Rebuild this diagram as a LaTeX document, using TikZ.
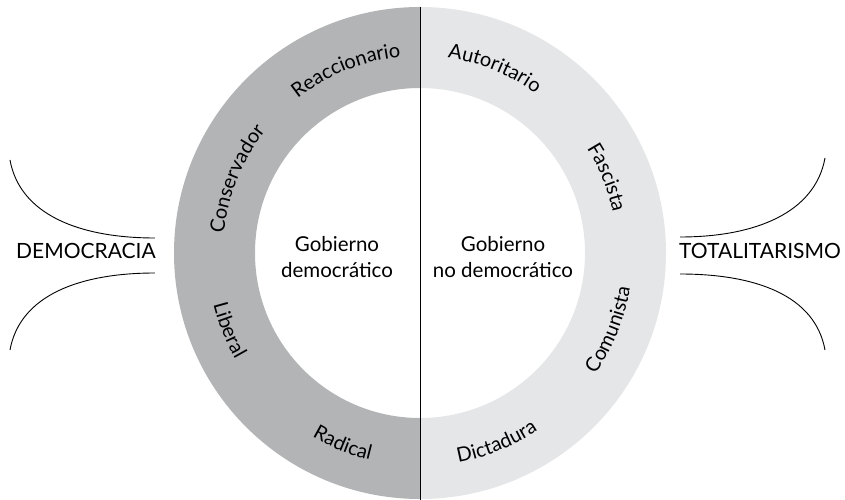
\documentclass[tikz,border=0pt]{standalone}
\usepackage{fontspec}
\setmainfont{Lato}
\usetikzlibrary{decorations.text}
\definecolor{oscuro}{RGB}{179,180,182}
\definecolor{claro}{RGB}{229,230,231}
\newcommand{\anillofont}{\fontsize{20}{24}\selectfont}
\tikzstyle{centro}=[align=center,font=\fontsize{20.5}{26}\selectfont,inner sep=0pt]
\tikzstyle{extremo}=[anchor=base,font=\fontsize{21}{25}\selectfont,inner sep=0pt]
\tikzstyle{llave} = [draw,line width=0.9pt,-]
\tikzset{
  arriba/.style={decorate,decoration={text along path,text align=center,text={|\anillofont|#1}}},
  abajo/.style={decorate,decoration={text along path,text align=center,text={|\anillofont|#1}}}
}

\begin{document}
\begin{tikzpicture}[x=1pt,y=1pt]
    \useasboundingbox (-420,-247) rectangle (425,253);
    % anillo
    \fill[oscuro] (90:246) arc[start angle=90,end angle=270,radius=246]
        -- (270:165) arc[start angle=270,end angle=90,radius=165] -- cycle;
    \fill[claro] (90:246) arc[start angle=90,end angle=-90,radius=246]
        -- (-90:165) arc[start angle=-90,end angle=90,radius=165] -- cycle;
    \coordinate (arr) at (90:246);
    \coordinate (aba) at (270:247);
    \draw[line width=1pt] (arr) -- (aba);
    % etiquetas
    \foreach \ang/\palabra in {112/Reaccionario, 158/Conservador, 68/Autoritario, 22/Fascista}
        \path[arriba/.expanded=\palabra] (\ang+40:197) arc[start angle=\ang+40,end angle=\ang-40,radius=197];
    \foreach \ang/\palabra in {202/Liberal, 248/Radical, 292/Dictadura, 338/Comunista}
        \path[abajo/.expanded=\palabra] (\ang-40:213) arc[start angle=\ang-40,end angle=\ang+40,radius=213];
    % centro
    \node[centro] (gobdem) at (-83,-4) {Gobierno\\democrático};
    \node[centro] (gobnodem) at (83,-4) {Gobierno\\no democrático};
    % extremos
    \node[extremo] (democ) at (-334,-6) {DEMOCRACIA};
    \node[extremo] (total) at (340,-6) {TOTALITARISMO};
    \path[llave] (-410,93) .. controls (-400,38) and (-340,15) .. (-265,15);
    \path[llave] (-265,-20) .. controls (-340,-20) and (-400,-42) .. (-410,-97);
    \path[llave] (405,95) .. controls (395,40) and (335,16) .. (260,16);
    \path[llave] (260,-21) .. controls (335,-21) and (395,-42) .. (405,-97);
\end{tikzpicture}
\end{document}
